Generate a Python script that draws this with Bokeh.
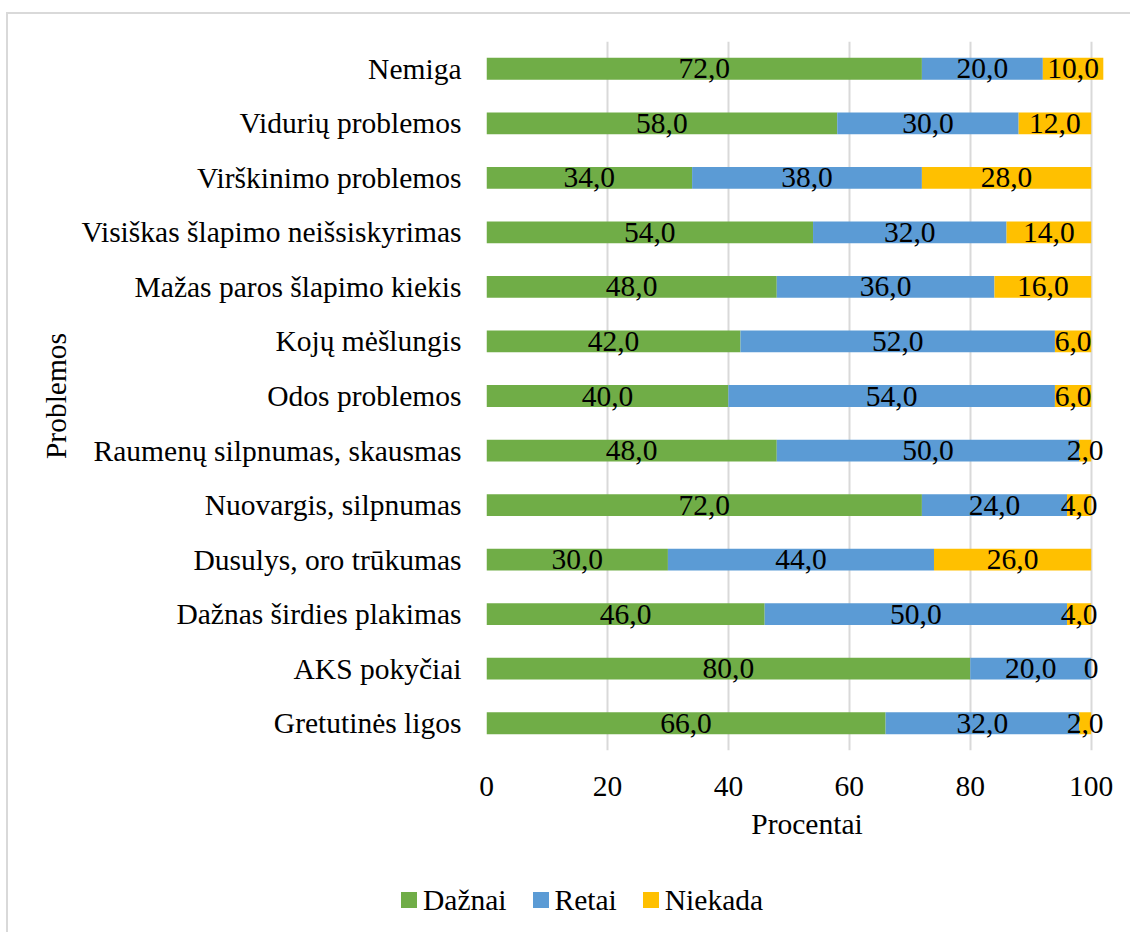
from bokeh.plotting import figure
from bokeh.layouts import column
from bokeh.models import ColumnDataSource, FactorRange, Range1d, FixedTicker, Div
from bokeh.core.properties import value
from bokeh.embed import file_html
from bokeh.resources import INLINE

# Problem categories, listed top to bottom as shown
categories = [
    "Nemiga",
    "Vidurių problemos",
    "Virškinimo problemos",
    "Visiškas šlapimo neišsiskyrimas",
    "Mažas paros šlapimo kiekis",
    "Kojų mėšlungis",
    "Odos problemos",
    "Raumenų silpnumas, skausmas",
    "Nuovargis, silpnumas",
    "Dusulys, oro trūkumas",
    "Dažnas širdies plakimas",
    "AKS pokyčiai",
    "Gretutinės ligos",
]
daznai = [72.0, 58.0, 34.0, 54.0, 48.0, 42.0, 40.0, 48.0, 72.0, 30.0, 46.0, 80.0, 66.0]
retai = [20.0, 30.0, 38.0, 32.0, 36.0, 52.0, 54.0, 50.0, 24.0, 44.0, 50.0, 20.0, 32.0]
niekada = [10.0, 12.0, 28.0, 14.0, 16.0, 6.0, 6.0, 2.0, 4.0, 26.0, 4.0, 0.0, 2.0]

series_names = ["Dažnai", "Retai", "Niekada"]
series_colors = ["#70AD47", "#5B9BD5", "#FFC000"]
x_ticks = [0, 20, 40, 60, 80, 100]

FONT = "Liberation Serif"
FS = "29.5px"
W = 1122


def fmt(v):
    return "0" if v == 0 else f"{v:.1f}".replace(".", ",")


source = ColumnDataSource(dict(cat=categories, dazn=daznai, ret=retai, niek=niekada))

# label positions: middle of each stacked segment
lab_x, lab_y, lab_t = [], [], []
for c, a, b, n in zip(categories, daznai, retai, niekada):
    for left, v in ((0, a), (a, b), (a + b, n)):
        lab_x.append(left + v / 2)
        lab_y.append(c)
        lab_t.append(fmt(v))
labels = ColumnDataSource(dict(x=lab_x, y=lab_y, t=lab_t))

# the x range runs a little past 100 so that end labels are not cut
p = figure(
    width=W, height=846,
    y_range=FactorRange(*list(reversed(categories)), range_padding=0),
    x_range=Range1d(0, 106),
    output_backend="svg", toolbar_location=None,
    min_border_left=478, min_border_right=3, min_border_top=27, min_border_bottom=110,
)
p.outline_line_color = None
p.background_fill_color = "white"
p.border_fill_color = "white"

rs = p.hbar_stack(["dazn", "ret", "niek"], y="cat", height=0.4, color=series_colors,
                  line_color=None, source=source)

p.text(x="x", y="y", text="t", source=labels, text_align="center", text_baseline="middle",
       text_font=value(FONT), text_font_size=FS, text_color="black")

# axes
p.xaxis.ticker = FixedTicker(ticks=x_ticks)
p.xaxis.axis_label = "Procentai"
p.yaxis.axis_label = "Problemos"
for ax in (p.xaxis[0], p.yaxis[0]):
    ax.axis_line_color = None
    ax.major_tick_line_color = None
    ax.minor_tick_line_color = None
    ax.major_label_text_font = FONT
    ax.major_label_text_font_size = FS
    ax.major_label_text_color = "black"
    ax.axis_label_text_font = FONT
    ax.axis_label_text_font_size = FS
    ax.axis_label_text_font_style = "normal"
    ax.axis_label_text_color = "black"
p.xaxis.major_label_standoff = 20
p.xaxis.axis_label_standoff = 9
p.yaxis.major_label_standoff = 19
p.yaxis.axis_label_standoff = 6

p.xgrid.grid_line_color = "#d9d9d9"
p.xgrid.grid_line_width = 2
p.ygrid.grid_line_color = None

# legend strip underneath the chart
LEGEND_FONT = "'Liberation Serif', 'Times New Roman', serif"
items_html = "".join(
    f'<span style="display:inline-block;width:16px;height:16px;background:{c};'
    f'margin-right:6px"></span>'
    f'<span style="margin-right:26px;font-family:{LEGEND_FONT}">{n}</span>'
    for n, c in zip(series_names, series_colors)
)
legend_div = Div(
    text=(f'<div style="display:flex;align-items:center;padding-left:393px;padding-top:25px;'
          f'font-family:{LEGEND_FONT};font-size:{FS};line-height:30px;color:black;">'
          f"{items_html}</div>"),
    width=W, height=72, margin=0,
    styles={"font-family": LEGEND_FONT, "font-size": FS, "color": "black"},
)

layout = column(p, legend_div, spacing=0)
layout.margin = (12, 0, 0, 6)
layout.styles = {"border-top": "2px solid #d9d9d9", "border-left": "2px solid #d9d9d9"}

open("out.html", "w").write(file_html(layout, INLINE))
